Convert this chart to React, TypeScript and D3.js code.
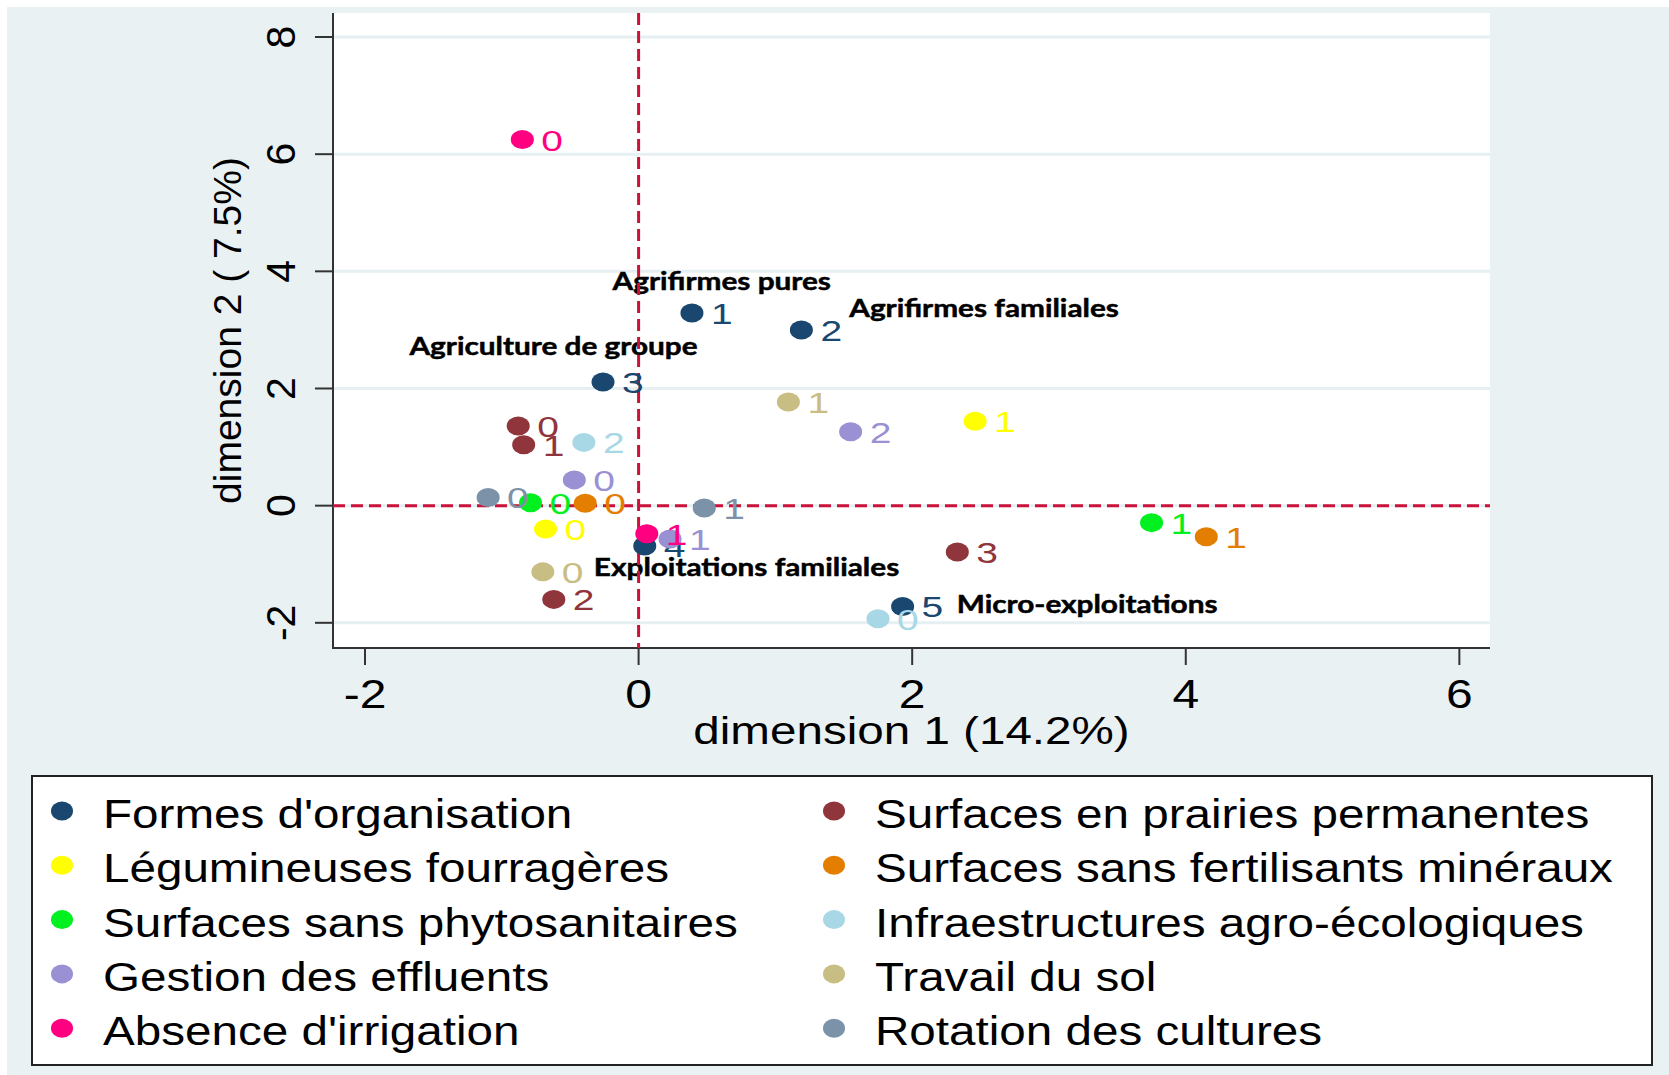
import React, { useRef, useEffect } from "react";
import * as d3 from "d3";

// MCA coordinates (dimension 1, dimension 2), one array per variable
const formesOrganisation = [
  { label: "1", x: 0.39, y: 3.29 },
  { label: "2", x: 1.19, y: 3.0 },
  { label: "3", x: -0.26, y: 2.11 },
  { label: "4", x: 0.045, y: -0.69 },
  { label: "5", x: 1.93, y: -1.72 },
];
const legumineuses = [
  { label: "0", x: -0.68, y: -0.4 },
  { label: "1", x: 2.46, y: 1.44 },
];
const sansPhyto = [
  { label: "0", x: -0.79, y: 0.05 },
  { label: "1", x: 3.75, y: -0.29 },
];
const effluents = [
  { label: "0", x: -0.47, y: 0.44 },
  { label: "1", x: 0.23, y: -0.57 },
  { label: "2", x: 1.55, y: 1.26 },
];
const irrigation = [
  { label: "0", x: -0.85, y: 6.25 },
  { label: "1", x: 0.06, y: -0.48 },
];
const prairies = [
  { label: "0", x: -0.88, y: 1.36 },
  { label: "1", x: -0.84, y: 1.04 },
  { label: "2", x: -0.62, y: -1.6 },
  { label: "3", x: 2.33, y: -0.79 },
];
const sansFertilisants = [
  { label: "0", x: -0.39, y: 0.04 },
  { label: "1", x: 4.15, y: -0.53 },
];
const infrastructures = [
  { label: "0", x: 1.75, y: -1.93 },
  { label: "2", x: -0.4, y: 1.08 },
];
const travailSol = [
  { label: "0", x: -0.7, y: -1.13 },
  { label: "1", x: 1.095, y: 1.77 },
];
const rotation = [
  { label: "0", x: -1.1, y: 0.14 },
  { label: "1", x: 0.48, y: -0.04 },
];

const seriesNames = [
  "Formes d'organisation",
  "Légumineuses fourragères",
  "Surfaces sans phytosanitaires",
  "Gestion des effluents",
  "Absence d'irrigation",
  "Surfaces en prairies permanentes",
  "Surfaces sans fertilisants minéraux",
  "Infraestructures agro-écologiques",
  "Travail du sol",
  "Rotation des cultures",
];
const seriesPoints = [
  formesOrganisation,
  legumineuses,
  sansPhyto,
  effluents,
  irrigation,
  prairies,
  sansFertilisants,
  infrastructures,
  travailSol,
  rotation,
];
const seriesColors = [
  "#1a476f",
  "#ffff00",
  "#00f020",
  "#9a90d4",
  "#ff0080",
  "#90353b",
  "#e37e00",
  "#a8d8e6",
  "#c8bd82",
  "#7c92a8",
];

// group labels written on the map
const annotations = [
  { text: "Agrifirmes pures", x: -0.19, y: 3.68 },
  { text: "Agrifirmes familiales", x: 1.54, y: 3.22 },
  { text: "Agriculture de groupe", x: -1.675, y: 2.57 },
  { text: "Exploitations familiales", x: -0.327, y: -1.2 },
  { text: "Micro-exploitations", x: 2.326, y: -1.84 },
];

const xTicks = [-2, 0, 2, 4, 6];
const yTicks = [-2, 0, 2, 4, 6, 8];
const xTitle = "dimension 1 (14.2%)";
const yTitle = "dimension 2 ( 7.5%)";

const WIDTH = 1669;
const HEIGHT = 1075;
const SANS = "'Liberation Sans', Arial, sans-serif";

export default function App() {
  const svgRef = useRef<SVGSVGElement>(null);

  useEffect(() => {
    if (!svgRef.current) return;
    const svg = d3.select(svgRef.current);
    svg.selectAll("*").remove();

    const plot = { left: 333, right: 1490, top: 13, bottom: 648 };

    const x = d3.scaleLinear().domain([-2.234, 6.224]).range([plot.left, plot.right]);
    const y = d3.scaleLinear().domain([-2.43, 8.41]).range([plot.bottom, plot.top]);

    // horizontally widened text, like the original export
    const wideText = (
      g: d3.Selection<SVGGElement, unknown, null, undefined>,
      px: number,
      py: number,
      txt: string,
      size: number,
      sx: number,
      fill = "#000",
      anchor = "start"
    ) =>
      g.append("text")
        .attr("transform", `translate(${px},${py}) scale(${sx},1)`)
        .attr("font-family", SANS)
        .attr("font-size", size)
        .attr("text-anchor", anchor)
        .attr("fill", fill)
        .text(txt);

    // page background
    svg.append("rect")
      .attr("x", 7).attr("y", 7)
      .attr("width", WIDTH - 7).attr("height", HEIGHT - 7)
      .attr("fill", "#eaf1f3");

    const root = svg.append("g");

    // plot region
    root.append("rect")
      .attr("x", plot.left).attr("y", plot.top)
      .attr("width", plot.right - plot.left)
      .attr("height", plot.bottom - plot.top)
      .attr("fill", "#fff");

    // grid lines
    root.append("g")
      .selectAll("line")
      .data(yTicks)
      .join("line")
      .attr("x1", plot.left).attr("x2", plot.right)
      .attr("y1", d => y(d)).attr("y2", d => y(d))
      .attr("stroke", "#e6eff1")
      .attr("stroke-width", 3);

    // axes
    const axisColor = "#333";
    root.append("line")
      .attr("x1", plot.left).attr("x2", plot.left)
      .attr("y1", plot.top).attr("y2", plot.bottom)
      .attr("stroke", axisColor).attr("stroke-width", 2);
    root.append("line")
      .attr("x1", plot.left - 1).attr("x2", plot.right)
      .attr("y1", plot.bottom).attr("y2", plot.bottom)
      .attr("stroke", axisColor).attr("stroke-width", 2);

    root.append("g")
      .selectAll("line")
      .data(yTicks)
      .join("line")
      .attr("x1", plot.left - 18).attr("x2", plot.left)
      .attr("y1", d => y(d)).attr("y2", d => y(d))
      .attr("stroke", axisColor).attr("stroke-width", 2);

    root.append("g")
      .selectAll("line")
      .data(xTicks)
      .join("line")
      .attr("x1", d => x(d)).attr("x2", d => x(d))
      .attr("y1", plot.bottom).attr("y2", plot.bottom + 17)
      .attr("stroke", axisColor).attr("stroke-width", 2);

    const axisG = root.append("g");
    xTicks.forEach(t => wideText(axisG, x(t), 708, String(t), 40, 1.2, "#000", "middle"));
    yTicks.forEach(t =>
      axisG.append("text")
        .attr("transform", `translate(295,${y(t)}) rotate(-90)`)
        .attr("font-family", SANS)
        .attr("font-size", 41)
        .attr("text-anchor", "middle")
        .attr("fill", "#000")
        .text(String(t))
    );

    wideText(axisG, (plot.left + plot.right) / 2, 744, xTitle, 39, 1.22, "#000", "middle");
    axisG.append("text")
      .attr("transform", `translate(241,${(plot.top + plot.bottom) / 2}) rotate(-90)`)
      .attr("font-family", SANS)
      .attr("font-size", 39)
      .attr("text-anchor", "middle")
      .attr("fill", "#000")
      .text(yTitle);

    // group annotations
    root.append("g")
      .selectAll("text")
      .data(annotations)
      .join("text")
      .attr("transform", d => `translate(${x(d.x)},${y(d.y)}) scale(1.19,1)`)
      .attr("font-family", "Lato, 'Open Sans', sans-serif")
      .attr("font-weight", "bold")
      .attr("font-size", 25)
      .attr("fill", "#000")
      .attr("stroke", "#000")
      .attr("stroke-width", 0.5)
      .text(d => d.text);

    // reference lines at 0
    const refG = root.append("g")
      .attr("stroke", "#cc1238")
      .attr("stroke-width", 3)
      .attr("stroke-dasharray", "12,6");
    refG.append("line")
      .attr("x1", x(0)).attr("x2", x(0))
      .attr("y1", plot.top).attr("y2", plot.bottom);
    refG.append("line")
      .attr("x1", plot.left).attr("x2", plot.right)
      .attr("y1", y(0)).attr("y2", y(0));

    // markers + labels, series by series
    seriesPoints.forEach((pts, i) => {
      const g = root.append("g");
      g.selectAll("ellipse")
        .data(pts)
        .join("ellipse")
        .attr("cx", d => x(d.x))
        .attr("cy", d => y(d.y))
        .attr("rx", 11.5)
        .attr("ry", 9.5)
        .attr("fill", seriesColors[i]);
      pts.forEach(d =>
        wideText(g, x(d.x) + 19, y(d.y) + 11, d.label, 30, 1.3, seriesColors[i])
      );
    });

    // legend
    const legend = svg.append("g");
    legend.append("rect")
      .attr("x", 32).attr("y", 776)
      .attr("width", 1620).attr("height", 289)
      .attr("fill", "#fff")
      .attr("stroke", "#222")
      .attr("stroke-width", 2);

    const colX = [62, 834];
    seriesNames.forEach((name, i) => {
      const col = Math.floor(i / 5);
      const row = i % 5;
      const by = 828 + row * 54.3;
      legend.append("ellipse")
        .attr("cx", colX[col])
        .attr("cy", by - 17)
        .attr("rx", 11)
        .attr("ry", 9.5)
        .attr("fill", seriesColors[i]);
      wideText(legend, colX[col] + 41, by, name, 40, 1.19);
    });
  }, []);

  return (
    <div style={{ position: "absolute", left: 0, top: 0 }}>
      <svg ref={svgRef} width={WIDTH} height={HEIGHT} style={{ display: "block", background: "#fff" }} />
    </div>
  );
}
